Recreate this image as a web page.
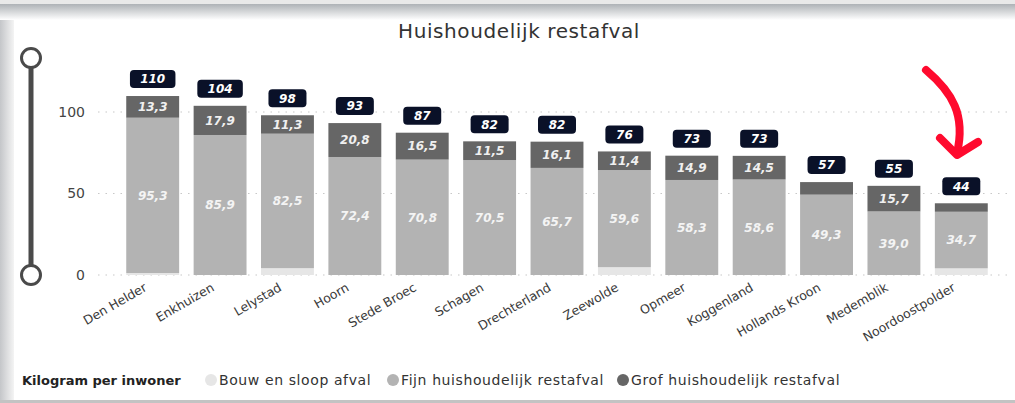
<!DOCTYPE html>
<html>
<head>
<meta charset="utf-8">
<script src="https://cdn.jsdelivr.net/npm/d3@7"></script>
<style>
  html, body { margin: 0; padding: 0; background: #fff; }
  svg { display: block; }
</style>
</head>
<body>
<svg width="1015" height="403"></svg>
<script>
const {select, scaleBand, scaleLinear, stack, axisLeft} = d3;

// data
const gemeenten = ['Den Helder', 'Enkhuizen', 'Lelystad', 'Hoorn', 'Stede Broec', 'Schagen',
  'Drechterland', 'Zeewolde', 'Opmeer', 'Koggenland', 'Hollands Kroon', 'Medemblik', 'Noordoostpolder'];
const bouw = [1.2, 0, 4.2, 0, 0, 0, 0, 4.8, 0, 0, 0, 0, 4.1];
const fijn = [95.3, 85.9, 82.5, 72.4, 70.8, 70.5, 65.7, 59.6, 58.3, 58.6, 49.3, 39.0, 34.7];
const grof = [13.3, 17.9, 11.3, 20.8, 16.5, 11.5, 16.1, 11.4, 14.9, 14.5, 7.7, 15.7, 5.2];
const totaal = [110, 104, 98, 93, 87, 82, 82, 76, 73, 73, 57, 55, 44];
const yTicks = [0, 50, 100];

const seriesKeys = ['bouw', 'fijn', 'grof'];
const seriesNames = ['Bouw en sloop afval', 'Fijn huishoudelijk restafval', 'Grof huishoudelijk restafval'];
const seriesColors = ['#e6e6e6', '#b3b3b3', '#666666'];

const rows = gemeenten.map((g, i) => ({
  name: g, bouw: bouw[i], fijn: fijn[i], grof: grof[i], total: totaal[i]
}));

const svg = select('svg');
const width = +svg.attr('width');
const height = +svg.attr('height');

// frame / background shades
const defs = svg.append('defs');
const topGrad = defs.append('linearGradient').attr('id', 'topGrad')
  .attr('x1', 0).attr('y1', 0).attr('x2', 0).attr('y2', 1);
topGrad.append('stop').attr('offset', '0%').attr('stop-color', '#aeb2b6');
topGrad.append('stop').attr('offset', '100%').attr('stop-color', '#ffffff');
const leftGrad = defs.append('linearGradient').attr('id', 'leftGrad')
  .attr('x1', 0).attr('y1', 0).attr('x2', 1).attr('y2', 0);
leftGrad.append('stop').attr('offset', '0%').attr('stop-color', '#c4c6c9');
leftGrad.append('stop').attr('offset', '100%').attr('stop-color', '#f4f4f4');

svg.append('rect').attr('x', 0).attr('y', 0).attr('width', 14).attr('height', height)
  .attr('fill', 'url(#leftGrad)');
svg.append('rect').attr('x', 0).attr('y', 0).attr('width', width).attr('height', 4)
  .attr('fill', '#e9e9e9');
svg.append('rect').attr('x', 0).attr('y', 4).attr('width', width).attr('height', 16)
  .attr('fill', 'url(#topGrad)');
svg.append('rect').attr('x', 0).attr('y', 400).attr('width', width).attr('height', 3)
  .attr('fill', '#c3c3c3');

// title
svg.append('text')
  .attr('x', 519).attr('y', 38)
  .attr('text-anchor', 'middle')
  .attr('font-family', 'DejaVu Sans, sans-serif')
  .attr('font-size', 20)
  .attr('letter-spacing', 0.6)
  .attr('fill', '#333')
  .text('Huishoudelijk restafval');

// scales
const x = scaleBand()
  .domain(gemeenten)
  .range([119, 995])
  .paddingInner(0.215)
  .paddingOuter(0.1075);

const y = scaleLinear()
  .domain([0, 100])
  .range([275, 112]);

// grid + y axis
const yAxisG = svg.append('g')
  .attr('transform', 'translate(98,0)')
  .call(axisLeft(y).tickValues(yTicks).tickSize(0).tickPadding(13));
yAxisG.select('.domain').remove();
yAxisG.selectAll('text')
  .attr('font-family', 'DejaVu Sans, sans-serif')
  .attr('font-size', 14)
  .attr('fill', '#444');

svg.append('g')
  .selectAll('line')
  .data(yTicks)
  .join('line')
  .attr('x1', 98).attr('x2', 1008)
  .attr('y1', d => y(d)).attr('y2', d => y(d))
  .attr('stroke', '#c8c8c8')
  .attr('stroke-width', 1.2)
  .attr('stroke-dasharray', '1.5 6');

// stacked bars
const stacked = stack().keys(seriesKeys)(rows);

const layers = svg.append('g')
  .selectAll('g')
  .data(stacked)
  .join('g')
  .attr('fill', (d, i) => seriesColors[i]);

layers.selectAll('rect')
  .data(d => d)
  .join('rect')
  .attr('x', d => x(d.data.name))
  .attr('width', x.bandwidth())
  .attr('y', d => y(d[1]))
  .attr('height', d => y(d[0]) - y(d[1]));

// segment labels (only when tall enough)
const labelFmt = v => v.toFixed(1).replace('.', ',');
stacked.forEach((layer, li) => {
  if (li === 0) return;
  svg.append('g')
    .selectAll('text')
    .data(layer.filter(d => y(d[0]) - y(d[1]) > 15))
    .join('text')
    .attr('x', d => x(d.data.name) + x.bandwidth() / 2)
    .attr('y', d => (y(d[0]) + y(d[1])) / 2)
    .attr('dy', '0.36em')
    .attr('text-anchor', 'middle')
    .attr('font-family', 'DejaVu Sans, sans-serif')
    .attr('font-size', 12)
    .attr('font-weight', 'bold')
    .attr('font-style', 'italic')
    .attr('fill', li === 1 ? '#f4f4f4' : '#f0f0f0')
    .text(d => labelFmt(d.data[layer.key]));
});

// total labels in dark boxes
const totalG = svg.append('g')
  .selectAll('g')
  .data(rows)
  .join('g')
  .attr('transform', d => `translate(${x(d.name) + x.bandwidth() / 2},${y(d.bouw + d.fijn + d.grof) - 17})`);

const boxW = d => String(d.total).length * 7.5 + 23;
totalG.append('rect')
  .attr('x', d => -boxW(d) / 2)
  .attr('width', boxW)
  .attr('y', -9)
  .attr('height', 18)
  .attr('rx', 4)
  .attr('fill', '#0a1128');

totalG.append('text')
  .attr('text-anchor', 'middle')
  .attr('dy', '0.36em')
  .attr('font-family', 'DejaVu Sans, sans-serif')
  .attr('font-size', 12)
  .attr('font-weight', 'bold')
  .attr('font-style', 'italic')
  .attr('fill', '#ffffff')
  .text(d => d.total);

// x axis labels
svg.append('g')
  .selectAll('text')
  .data(gemeenten)
  .join('text')
  .attr('transform', d => `translate(${x(d) + x.bandwidth() / 2 - 5},${290}) rotate(-30)`)
  .attr('text-anchor', 'end')
  .attr('font-family', 'DejaVu Sans, sans-serif')
  .attr('font-size', 12.5)
  .attr('fill', '#3a3a3a')
  .text(d => d);

// range slider on the left
svg.append('line')
  .attr('x1', 31).attr('x2', 31)
  .attr('y1', y(110) - 38).attr('y2', y(0))
  .attr('stroke', '#4a4a4a')
  .attr('stroke-width', 5);
svg.append('g')
  .selectAll('circle')
  .data([y(0), y(0) - 217])
  .join('circle')
  .attr('cx', 31)
  .attr('cy', d => d)
  .attr('r', 9.5)
  .attr('fill', '#fff')
  .attr('stroke', '#4a4a4a')
  .attr('stroke-width', 3);

// legend
const legend = svg.append('g').attr('transform', 'translate(22,380)');
legend.append('text')
  .attr('dy', '0.35em')
  .attr('font-family', 'DejaVu Sans, sans-serif')
  .attr('font-size', 13)
  .attr('font-weight', 'bold')
  .attr('fill', '#222')
  .text('Kilogram per inwoner');

const legendX = [189, 371, 601];
const item = legend.selectAll('g.item')
  .data(seriesNames)
  .join('g')
  .attr('class', 'item')
  .attr('transform', (d, i) => `translate(${legendX[i]},0)`);
item.append('circle')
  .attr('r', 6)
  .attr('fill', (d, i) => seriesColors[i]);
item.append('text')
  .attr('x', 8)
  .attr('dy', '0.35em')
  .attr('font-family', 'DejaVu Sans, sans-serif')
  .attr('font-size', 14)
  .attr('letter-spacing', 0.6)
  .attr('fill', '#333')
  .text(d => d);

// red annotation arrow
svg.append('path')
  .attr('d', 'M926,70 C952,92 966,115 957,153')
  .attr('fill', 'none')
  .attr('stroke', '#ff0a2e')
  .attr('stroke-width', 8)
  .attr('stroke-linecap', 'round');
svg.append('path')
  .attr('d', 'M940,138 L957,155 L978,142')
  .attr('fill', 'none')
  .attr('stroke', '#ff0a2e')
  .attr('stroke-width', 8)
  .attr('stroke-linecap', 'round')
  .attr('stroke-linejoin', 'round');
</script>
</body>
</html>
